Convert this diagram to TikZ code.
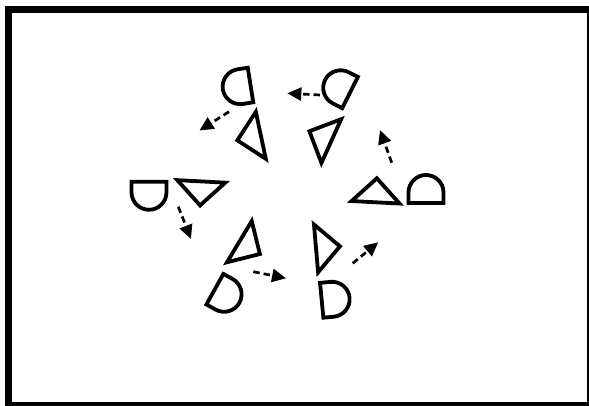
\documentclass[tikz,border=0pt]{standalone}
\usetikzlibrary{arrows.meta}
\begin{document}
\begin{tikzpicture}[x=1pt,y=1pt,
  shapeline/.style={line width=3.8pt,black},
  dasharrow/.style={line width=2.7pt,dash pattern=on 6.5pt off 4pt,-{Triangle[length=14pt,width=13pt]}},
  tri/.pic={\draw[shapeline] (-24,-8) -- (24,-8) -- (0,16) -- cycle;},
  arch/.pic={\draw[shapeline] (-17.5,0) -- (-17.5,10.5) arc[start angle=180,end angle=0,radius=17.5pt] -- (17.5,0) -- cycle;}]
\useasboundingbox (0,0) rectangle (589,405);
\clip (0,0) rectangle (589,405);
\draw[line width=7pt] (8.5,395.5) rectangle (590.5,-0.5);
% triangles
\pic[shift={(376,210.7)},rotate=-3] {tri};
\pic[shift={(324,157.3)},rotate=-85] {tri};
\pic[shift={(246.2,159.2)},rotate=-121] {tri};
\pic[shift={(200.9,215.6)},rotate=-183] {tri};
\pic[shift={(253,268)},rotate=102] {tri};
\pic[shift={(324,267.2)},rotate=65.7] {tri};
% arches
\pic[shift={(426,202)},rotate=0] {arch};
\pic[shift={(321.7,104.7)},rotate=-84.5] {arch};
\pic[shift={(214.9,115.8)},rotate=-119] {arch};
\pic[shift={(149,223.25)},rotate=180] {arch};
\pic[shift={(250.5,320)},rotate=99] {arch};
\pic[shift={(350.1,312.5)},rotate=63.4] {arch};
% arrows
\coordinate (a1) at (320,310);   \coordinate (b1) at (287.3,311.7);
\coordinate (a2) at (229,293.3); \coordinate (b2) at (199.5,274.5);
\coordinate (a3) at (178.3,198.3); \coordinate (b3) at (191,166);
\coordinate (a4) at (253.3,133.3); \coordinate (b4) at (286,126.7);
\coordinate (a5) at (352.7,141.7); \coordinate (b5) at (378.3,162.7);
\coordinate (a6) at (391.7,242.3); \coordinate (b6) at (380,275);
\draw[dasharrow] (a1) -- (b1);
\draw[dasharrow] (a2) -- (b2);
\draw[dasharrow] (a3) -- (b3);
\draw[dasharrow] (a4) -- (b4);
\draw[dasharrow] (a5) -- (b5);
\draw[dasharrow] (a6) -- (b6);
\end{tikzpicture}
\end{document}
